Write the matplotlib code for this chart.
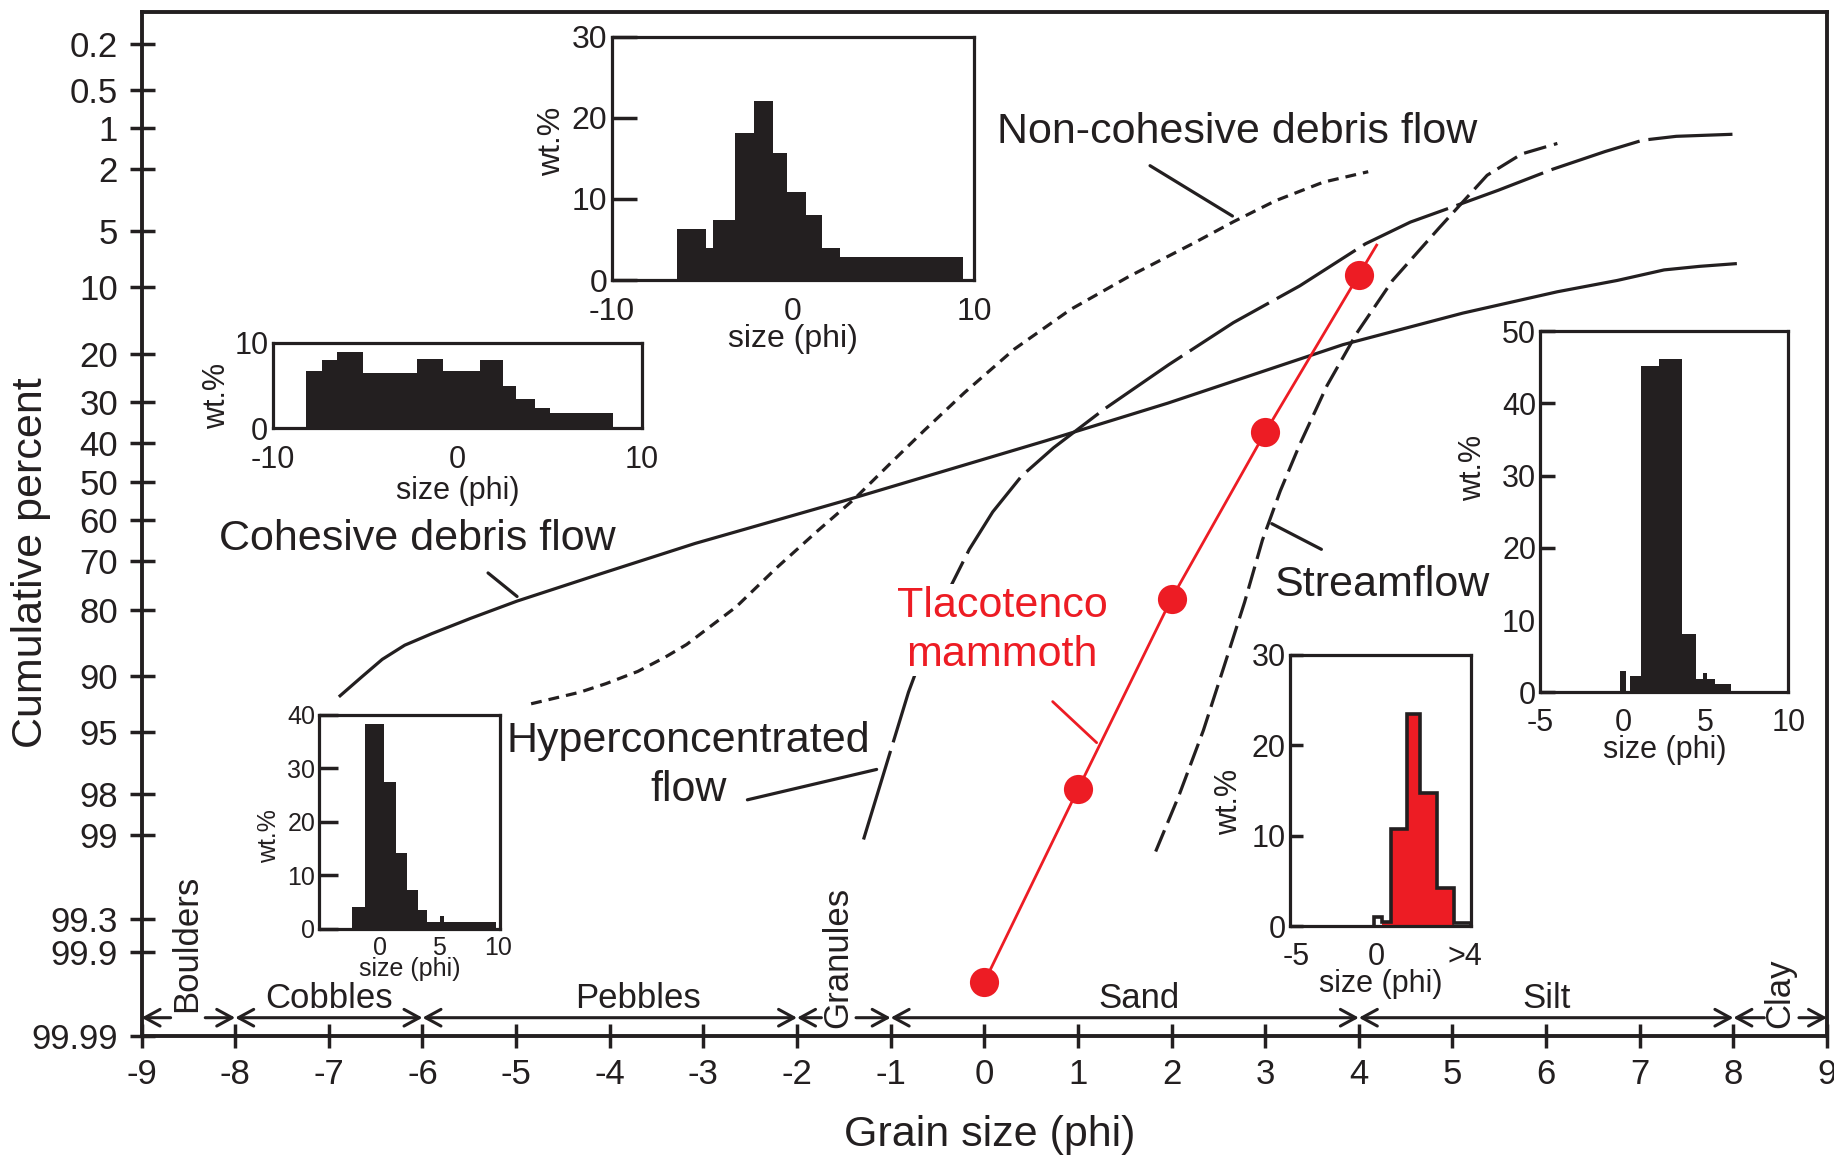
import numpy as np
import matplotlib
matplotlib.use('Agg')
import matplotlib.pyplot as plt
from matplotlib.ticker import NullLocator
from statistics import NormalDist

plt.rcParams['font.family'] = ['Liberation Sans', 'DejaVu Sans']
plt.rcParams['axes.unicode_minus'] = False

BLACK = '#231F20'
RED = '#ED1C24'

# cumulative curves: grain size (phi) vs cumulative percent
cohesive_phi = [-6.88, -6.65, -6.43, -6.19, -5.90, -5.49, -4.99, -4.10, -3.09, -1.52, 0.66, 1.96,
                3.83, 5.11, 6.12, 6.76, 7.26, 7.64, 8.02]
cohesive_pct = [92.05, 90.06, 87.88, 85.9, 84.13, 81.6, 78.4, 72.8, 65.8, 55.2, 39.4, 30.3,
                18.4, 13.4, 10.6, 9.3, 8.2, 7.85, 7.6]

noncoh_phi = [-4.84, -4.32, -4.04, -3.70, -3.41, -3.18, -2.65, -2.22, -1.78, -1.39, -1.01, -0.64,
              -0.21, 0.32, 0.92, 1.54, 2.24, 2.66, 3.11, 3.62, 4.10]
noncoh_pct = [92.8, 91.7, 90.8, 89.4, 87.6, 85.8, 79.5, 71.5, 62.7, 54.6, 45.4, 36.8,
              27.9, 19.2, 12.9, 8.9, 5.83, 4.38, 3.24, 2.45, 2.08]

hyper_phi = [-1.29, -1.05, -0.81, -0.57, -0.38, -0.16, 0.09, 0.40, 0.74, 1.28, 1.97, 2.66, 3.37,
             4.07, 4.55, 4.97, 5.49, 6.07, 6.63, 7.03, 7.39, 7.99]
hyper_pct = [99.07, 96.92, 91.7, 83.77, 76.27, 67.2, 57.9, 48.5, 41.2, 31.7, 22.1, 14.8, 9.9,
             5.9, 4.4, 3.6, 2.77, 2.0, 1.5, 1.24, 1.16, 1.12]

stream_phi = [1.83, 2.08, 2.34, 2.56, 2.78, 2.97, 3.16, 3.37, 3.66, 3.98, 4.36, 4.86, 5.37, 5.74, 6.12]
stream_pct = [99.25, 98.04, 94.9, 88.8, 78.6, 65.0, 52.5, 40.3, 26.4, 16.4, 9.3, 4.75, 2.2, 1.56, 1.31]

# Tlacotenco mammoth sample (red), the line runs a bit past the last point
mammoth_phi = [0, 1, 2, 3, 4]
mammoth_pct = [99.95, 97.85, 77.9, 37.3, 8.7]
mammoth_tip_phi = 4.19
mammoth_tip_pct = 6.0

# histogram insets: bin edges (phi) and wt.%
noncoh_edges = [-6.4, -4.8, -4.4, -3.2, -2.15, -1.1, -0.3, 0.7, 1.6, 2.6, 9.4]
noncoh_wt = [6.3, 3.9, 7.4, 18.1, 22.1, 15.7, 10.9, 8.0, 4.0, 2.8]

cohesive_edges = [-8.2, -7.3, -6.5, -5.1, -2.2, -0.8, 1.25, 2.45, 3.15, 4.2, 5.0, 8.45]
cohesive_wt = [6.7, 8.0, 8.9, 6.4, 8.1, 6.7, 8.0, 4.9, 3.4, 2.4, 1.7]

hyper_edges = [-2.4, -1.3, 0.3, 1.35, 2.25, 3.2, 4.0, 5.05, 5.4, 9.9]
hyper_wt = [4.1, 38.2, 27.3, 14.2, 7.2, 3.5, 1.2, 2.4, 1.2]

stream_edges = [-0.2, 0.15, 0.45, 1.1, 2.2, 3.55, 4.4, 4.85, 5.05, 5.55, 6.55]
stream_wt = [2.9, 0, 2.2, 45.1, 46.1, 8.1, 1.85, 2.7, 1.85, 1.15]

tlac_edges = [-0.2, 0.3, 0.87, 1.86, 2.69, 3.76, 4.81, 5.9]
tlac_wt = [1.0, 0.5, 10.8, 23.5, 14.7, 4.2, 0.4]

# grain size classes along the bottom
class_names = ['Boulders', 'Cobbles', 'Pebbles', 'Granules', 'Sand', 'Silt', 'Clay']
class_limits = [-9, -8, -6, -2, -1, 4, 8, 9]
class_label_x = [-8.52, -7.0, -3.7, -1.57, 1.65, 6.0, 8.5]
class_rotated = [True, False, False, True, False, False, True]

# probability axis; bottom edge sits just above 99.99 (labelled 99.99 in the original)
pct_bottom = 99.9867
pct_ticks = [0.2, 0.5, 1, 2, 5, 10, 20, 30, 40, 50, 60, 70, 80, 90, 95, 98, 99, 99.8, 99.9, pct_bottom]
pct_labels = ['0.2', '0.5', '1', '2', '5', '10', '20', '30', '40', '50', '60', '70',
              '80', '90', '95', '98', '99', '99.3', '99.9', '99.99']

nd = NormalDist()


def to_z(p):
    p = np.clip(np.asarray(p, dtype=float), 1e-4, 100 - 1e-4)
    return np.vectorize(lambda v: nd.inv_cdf(v / 100.0), otypes=[float])(p)


def from_z(z):
    return np.vectorize(lambda v: nd.cdf(v) * 100.0, otypes=[float])(np.asarray(z, dtype=float))


fig = plt.figure(figsize=(18.34, 11.59), dpi=100)
ax = fig.add_axes([0.0772, 0.106, 0.919, 0.884])
ax.set_yscale('function', functions=(to_z, from_z))
ax.set_xlim(-9, 9)
ax.set_ylim(pct_bottom, 0.1)

ax.set_yticks(pct_ticks, pct_labels, fontsize=25)
ax.yaxis.set_minor_locator(NullLocator())
ax.set_xticks(range(-9, 10), [str(v) for v in range(-9, 10)], fontsize=25)
ax.tick_params(axis='y', direction='inout', length=18, width=2.5, pad=8, colors=BLACK)
ax.tick_params(axis='x', direction='inout', length=17, width=2.5, pad=7, colors=BLACK)
for s in ax.spines.values():
    s.set_linewidth(2.8)
    s.set_color(BLACK)

ax.set_ylabel('Cumulative percent', fontsize=31, color=BLACK)
ax.yaxis.label.set_verticalalignment('center')
ax.yaxis.set_label_coords(-0.0659, 0.462)
ax.set_xlabel('Grain size (phi)', fontsize=31, color=BLACK)
ax.xaxis.label.set_verticalalignment('center')
ax.xaxis.set_label_coords(0.503, -0.096)

# curves
ax.plot(cohesive_phi, cohesive_pct, color=BLACK, lw=2.3, solid_joinstyle='round')
ax.plot(noncoh_phi, noncoh_pct, color=BLACK, lw=2.3, ls=(0, (3.4, 2.2)))
ax.plot(hyper_phi, hyper_pct, color=BLACK, lw=2.3, ls=(0, (29, 2.8)))
ax.plot(stream_phi, stream_pct, color=BLACK, lw=2.3, ls=(0, (7.2, 2.5)))
ax.plot(mammoth_phi + [mammoth_tip_phi], mammoth_pct + [mammoth_tip_pct], color=RED, lw=2.0)
ax.plot(mammoth_phi, mammoth_pct, 'o', color=RED, ms=21, mec='none')

# curve labels and leaders
lbl = dict(fontsize=31, color=BLACK)
lead = dict(arrowstyle='-', lw=2.3, color=BLACK, shrinkA=0, shrinkB=0)
ax.text(0.14, 1.07, 'Non-cohesive debris flow', ha='left', va='center', **lbl)
ax.annotate('', xy=(2.65, 4.04), xytext=(1.77, 1.89), arrowprops=lead)
ax.text(-8.17, 64.7, 'Cohesive debris flow', ha='left', va='center', **lbl)
ax.annotate('', xy=(-4.99, 77.5), xytext=(-5.30, 72.6), arrowprops=lead)
ax.text(-3.16, 96.9, 'Hyperconcentrated\nflow', ha='center', va='center', ma='center',
        linespacing=1.3, **lbl)
ax.annotate('', xy=(-1.15, 97.08), xytext=(-2.53, 98.18), arrowprops=lead)
ax.text(3.09, 75.1, 'Streamflow', ha='left', va='center', **lbl)
ax.annotate('', xy=(3.60, 67.2), xytext=(3.07, 60.9), arrowprops=lead)
ax.text(0.19, 83.6, 'Tlacotenco\nmammoth', ha='center', va='center', ma='center',
        linespacing=1.3, fontsize=31, color=RED, zorder=5,
        bbox=dict(fc='white', ec='none', pad=1))
ax.annotate('', xy=(1.20, 95.7), xytext=(0.73, 92.6),
            arrowprops=dict(arrowstyle='-', lw=2.0, color=RED, shrinkA=0, shrinkB=0))

# grain-size class bar
trans = ax.get_xaxis_transform()
y_bar = 0.018
head = ',head_length=0.55,head_width=0.3'


def bar_arrow(x0, x1, style):
    ax.annotate('', xy=(x1, y_bar), xytext=(x0, y_bar), xycoords=trans, textcoords=trans,
                arrowprops=dict(arrowstyle=style + head, lw=2.2, color=BLACK,
                                shrinkA=0, shrinkB=0, mutation_scale=20))


for i, name in enumerate(class_names):
    lo, hi = class_limits[i], class_limits[i + 1]
    xl = class_label_x[i]
    if class_rotated[i]:
        bar_arrow(xl - 0.17, lo, '->')
        bar_arrow(xl + 0.2, hi, '->')
        yb = 0.024 if name == 'Boulders' else 0.008
        ax.text(xl, yb, name, transform=trans, rotation=90, ha='center', va='bottom',
                fontsize=25, color=BLACK)
    else:
        bar_arrow(lo, hi, '<->')
        ax.text(xl, 0.037, name, transform=trans, ha='center', va='center',
                fontsize=25, color=BLACK)


# histogram insets
def style_inset(a, xlim, ylim, xticks, xticklabels, yticks, fs, tick_len, xpad, label_xy, xlabelpad=-2):
    a.set_xlim(xlim)
    a.set_ylim(ylim)
    a.set_xticks(xticks, xticklabels, fontsize=fs)
    a.set_yticks(yticks, [str(t) for t in yticks], fontsize=fs)
    a.tick_params(axis='x', length=0, pad=xpad, colors=BLACK)
    a.tick_params(axis='y', direction='in', length=tick_len, width=2.5, pad=3, colors=BLACK)
    a.set_xlabel('size (phi)', fontsize=fs, labelpad=xlabelpad, color=BLACK)
    a.set_ylabel('wt.%', fontsize=fs, color=BLACK)
    a.yaxis.label.set_verticalalignment('center')
    a.yaxis.set_label_coords(*label_xy)
    for s in a.spines.values():
        s.set_linewidth(2.3)
        s.set_color(BLACK)


def hist_inset(rect, edges, wt, **kw):
    a = fig.add_axes(rect)
    a.stairs(wt, edges, fill=True, color=BLACK, lw=0)
    style_inset(a, **kw)
    return a


hist_inset([0.3335, 0.7584, 0.1977, 0.21], noncoh_edges, noncoh_wt, xlim=(-10, 10), ylim=(0, 30),
           xticks=[-10, 0, 10], xticklabels=['-10', '0', '10'], yticks=[0, 10, 20, 30],
           fs=23, tick_len=18, xpad=12, label_xy=(-0.165, 0.57))
hist_inset([0.1486, 0.6307, 0.2015, 0.0737], cohesive_edges, cohesive_wt, xlim=(-10, 10), ylim=(0, 10),
           xticks=[-10, 0, 10], xticklabels=['-10', '0', '10'], yticks=[0, 10],
           fs=22, tick_len=0, xpad=12, label_xy=(-0.149, 0.37), xlabelpad=1)
hist_inset([0.1741, 0.1988, 0.0985, 0.1847], hyper_edges, hyper_wt, xlim=(-5.2, 10.2), ylim=(0, 40),
           xticks=[0, 5, 10], xticklabels=['0', '5', '10'], yticks=[0, 10, 20, 30, 40],
           fs=18, tick_len=14, xpad=5, label_xy=(-0.28, 0.43))
ai = hist_inset([0.8399, 0.4026, 0.1352, 0.3118], stream_edges, stream_wt, xlim=(-5, 10), ylim=(0, 50),
                xticks=[-5, 0, 5, 10], xticklabels=['-5', '0', '5', '10'], yticks=[0, 10, 20, 30, 40, 50],
                fs=22, tick_len=11, xpad=11, label_xy=(-0.27, 0.62))
ai.yaxis.get_major_ticks()[1].tick1line.set_visible(False)

# red Tlacotenco histogram
at = fig.add_axes([0.7034, 0.2008, 0.0989, 0.2341])
at.stairs(tlac_wt[1:-1], tlac_edges[1:-1], fill=True, color=RED, lw=0)
at.stairs(tlac_wt, tlac_edges, color=BLACK, lw=2.6)
style_inset(at, xlim=(-5.4, 5.9), ylim=(0, 30), xticks=[-5, 0, 5.5], xticklabels=['-5', '0', '>4'],
            yticks=[0, 10, 20, 30], fs=22, tick_len=9, xpad=11, label_xy=(-0.335, 0.46))

fig.savefig('out.png', dpi=100)
